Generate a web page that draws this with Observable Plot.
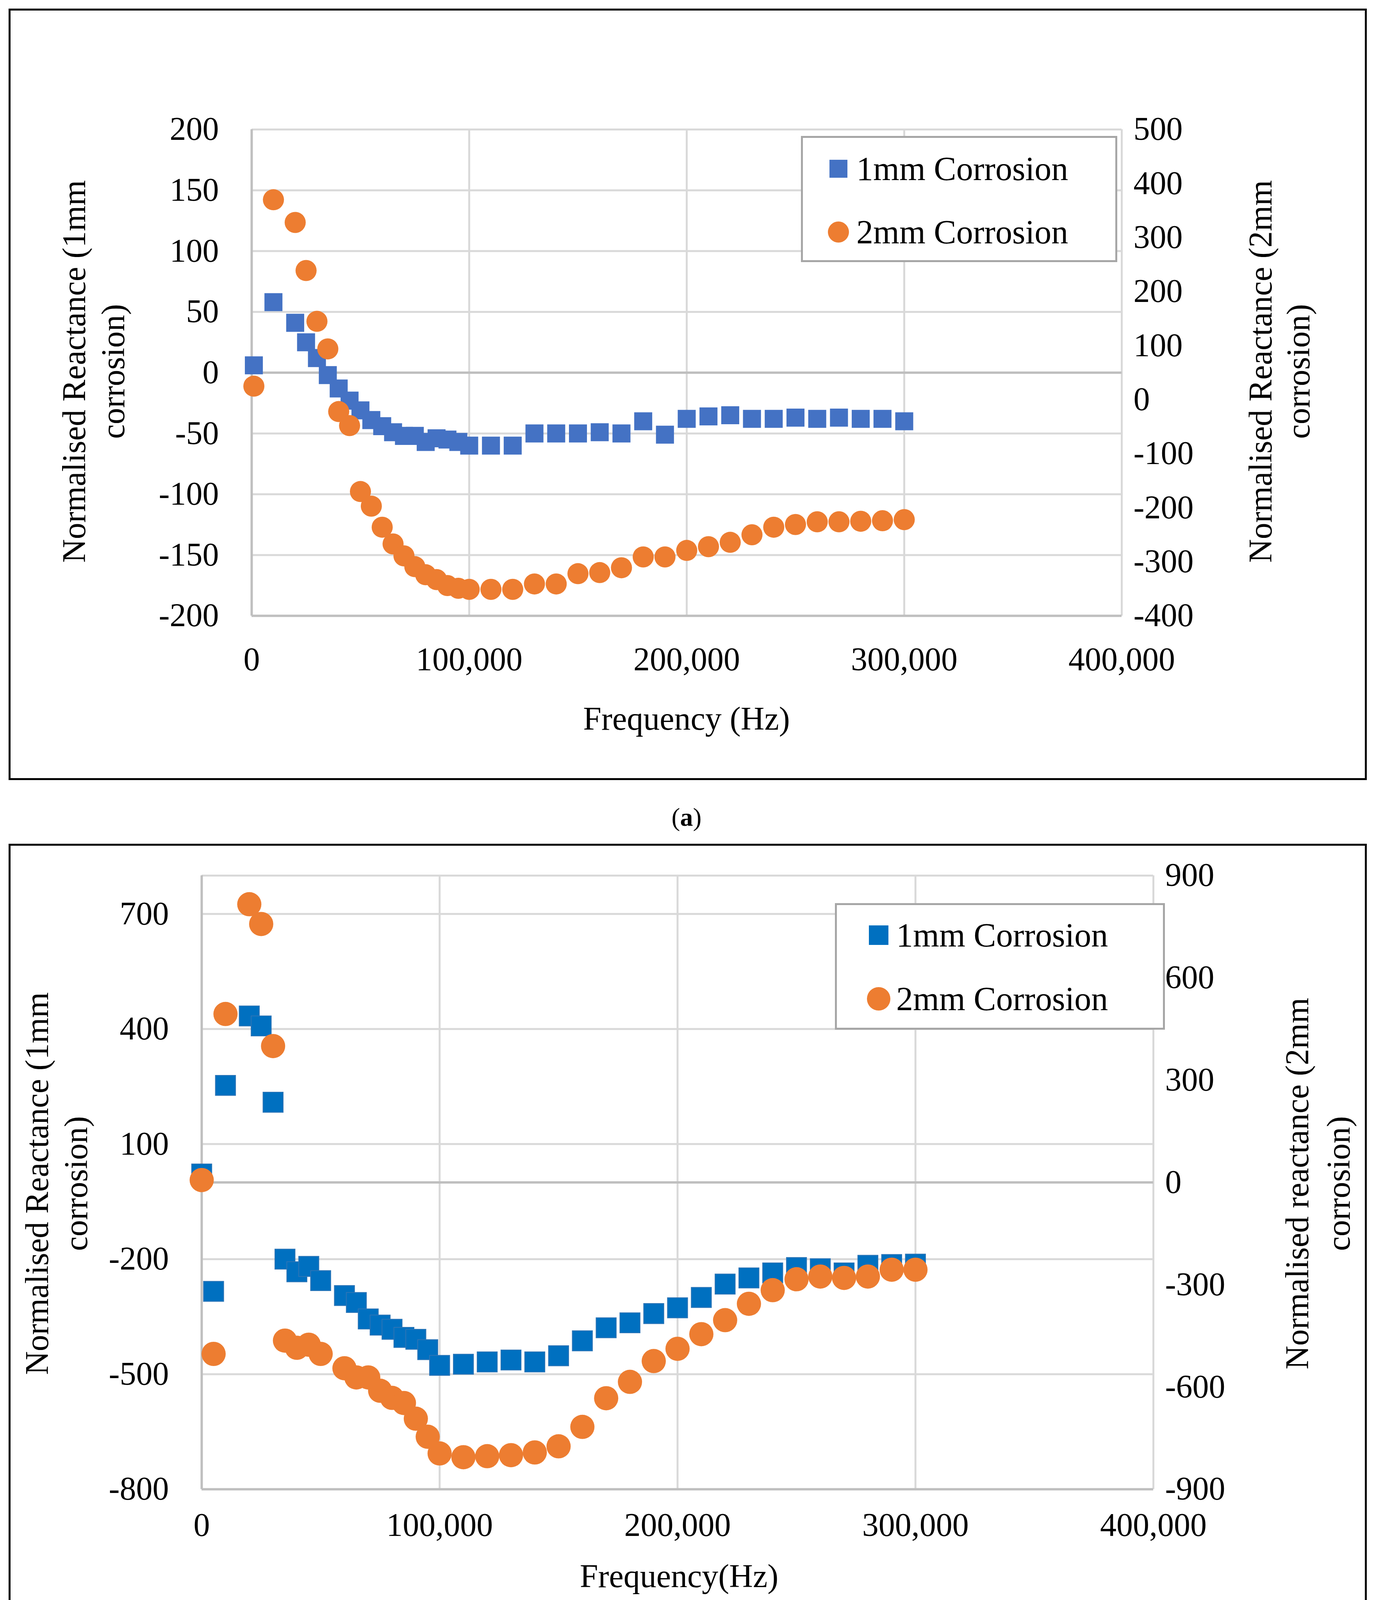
<!DOCTYPE html>
<html><head><meta charset="utf-8">
<script src="https://cdn.jsdelivr.net/npm/d3@7"></script>
<script src="https://cdn.jsdelivr.net/npm/@observablehq/plot@0.6"></script>
<style>
html,body{margin:0;background:#fff;overflow:hidden;}
#root{position:relative;width:3521px;height:4253px;font-family:"Liberation Serif",serif;color:#000;}
.frame{position:absolute;border:5px solid #000;box-sizing:border-box;}
.lbl{position:absolute;font-size:84px;white-space:nowrap;transform:translate(-50%,-50%);line-height:1;}
.rot{transform:translate(-50%,-50%) rotate(-90deg);}
.legend{position:absolute;border:5px solid #a6a6a6;box-sizing:border-box;background:#fff;}
.leg{position:absolute;font-size:86px;white-space:nowrap;transform:translateY(-50%);line-height:1;}
.mk{position:absolute;transform:translate(-50%,-50%);}
</style></head>
<body><div id="root"></div>
<script>
// Panel (a)
const freqA = [1000,10000,20000,25000,30000,35000,40000,45000,50000,55000,60000,65000,70000,75000,80000,85000,90000,95000,100000,
  110000,120000,130000,140000,150000,160000,170000,180000,190000,200000,210000,220000,230000,240000,250000,260000,270000,280000,290000,300000];
const a1mm = [6,58,41,25,12,-2,-13,-23,-31,-39,-44,-49,-52,-52,-57,-54,-55,-57,-60,
  -60,-60,-50,-50,-50,-49,-50,-40,-51,-38,-36,-35,-38,-38,-37,-38,-37,-38,-38,-40];
const a2mm = [25,370,328,239,145,94,-22,-48,-170,-197,-236,-267,-289,-309,-324,-333,-344,-349,-351,
  -351,-351,-341,-341,-322,-320,-311,-291,-291,-279,-272,-264,-250,-236,-231,-226,-226,-225,-224,-222];
const aLeftTicks = [-200,-150,-100,-50,0,50,100,150,200];
const aRightTicks = [-400,-300,-200,-100,0,100,200,300,400,500];
// Panel (b)
const freqB = [0,5000,10000,20000,25000,30000,35000,40000,45000,50000,60000,65000,70000,75000,80000,85000,90000,95000,100000,
  110000,120000,130000,140000,150000,160000,170000,180000,190000,200000,210000,220000,230000,240000,250000,260000,270000,280000,290000,300000];
const b1mm = [22,-284,253,434,408,209,-200,-233,-219,-256,-295,-313,-356,-372,-383,-404,-409,-436,-477,
  -474,-468,-463,-468,-452,-413,-379,-366,-342,-327,-300,-265,-249,-236,-222,-225,-236,-216,-214,-213];
const b2mm = [7,-503,494,816,758,400,-464,-485,-476,-503,-545,-572,-572,-611,-632,-647,-693,-746,-795,
  -806,-803,-800,-792,-774,-717,-633,-585,-524,-488,-445,-404,-356,-316,-284,-276,-280,-276,-256,-256];
const bLeftTicks = [-800,-500,-200,100,400,700];
const bRightTicks = [-900,-600,-300,0,300,600,900];
const xTicks = [0,100000,200000,300000,400000];

const BLUE_A = "#4472C4", BLUE_B = "#0070C0", ORANGE = "#ED7D31";
const root = document.getElementById("root");

function panel(o){
  const f = d3.scaleLinear(o.rightDom, o.leftDom);
  const d1 = o.freq.map((x,i)=>({x, y:o.v1[i]}));
  const d2 = o.freq.map((x,i)=>({x, y:f(o.v2[i])}));
  const p = Plot.plot({
    width:o.w, height:o.h,
    marginLeft:o.ml, marginRight:o.mr, marginTop:o.mt, marginBottom:o.mb,
    style:{fontFamily:"Liberation Serif", fontSize:"84px", color:"#000", background:"transparent"},
    x:{domain:[0,400000]},
    y:{domain:o.leftDom},
    marks:[
      Plot.ruleX(xTicks,{stroke:"#d9d9d9", strokeWidth:5}),
      Plot.ruleY(o.gridY,{stroke:"#d9d9d9", strokeWidth:5}),
      Plot.ruleY([o.leftDom[0]],{stroke:"#bfbfbf", strokeWidth:6}),
      Plot.ruleY([0],{stroke:"#bfbfbf", strokeWidth:6}),
      Plot.ruleX([0],{stroke:"#bfbfbf", strokeWidth:6}),
      Plot.axisX({ticks:xTicks, tickFormat:d3.format(","), tickSize:0, tickPadding:o.xPad, label:null, fontSize:84}),
      Plot.axisY({anchor:"left", ticks:o.leftTicks, tickSize:0, tickPadding:84, label:null, fontSize:84, tickFormat:d=>d}),
      Plot.axisY({anchor:"right", ticks:o.rightTicks.map(f), tickFormat:d=>(Math.round(f.invert(d))||0), tickSize:0, tickPadding:30, label:null, fontSize:84}),
      Plot.dot(d1,{x:"x", y:"y", symbol:"square", r:o.rs, fill:o.blue, stroke:o.xmark?"#2E75B6":null, strokeWidth:2}),
      Plot.dot(d2,{x:"x", y:"y", r:o.rc, fill:ORANGE})
    ]
  });
  p.style.position="absolute"; p.style.left=o.fx+"px"; p.style.top=o.fy+"px";
  root.appendChild(p);
}

function html(tag, cls, style, text){
  const e=document.createElement(tag); e.className=cls; Object.assign(e.style,style); if(text!=null) e.textContent=text; root.appendChild(e); return e;
}

html("div","frame",{left:"22px",top:"22px",width:"3478px",height:"1975px"});
html("div","frame",{left:"22px",top:"2160px",width:"3478px",height:"2020px"});

panel({freq:freqA, v1:a1mm, v2:a2mm, leftDom:[-200,200], rightDom:[-400,500], leftTicks:aLeftTicks, rightTicks:aRightTicks,
  gridY:aLeftTicks, w:3478, h:1975, ml:622, mr:628, mt:309, mb:421, fx:22, fy:22, xPad:80, rs:26, rc:27, blue:BLUE_A});
panel({freq:freqB, v1:b1mm, v2:b2mm, leftDom:[-800,800], rightDom:[-900,900], leftTicks:bLeftTicks, rightTicks:bRightTicks,
  gridY:[-800,-500,-200,100,400,700,800], w:3478, h:2020, ml:494, mr:547, mt:81, mb:368, fx:22, fy:2160, xPad:60, rs:29, rc:31, blue:BLUE_B, xmark:true});

html("div","lbl rot",{left:"190px",top:"951px"},"Normalised Reactance (1mm");
html("div","lbl rot",{left:"290px",top:"951px"},"corrosion)");
html("div","lbl rot",{left:"3228px",top:"951px"},"Normalised  Reactance (2mm");
html("div","lbl rot",{left:"3325px",top:"951px"},"corrosion)");
html("div","lbl",{left:"1758px",top:"1840px"},"Frequency (Hz)");
html("div","lbl rot",{left:"95px",top:"3030px"},"Normalised Reactance (1mm");
html("div","lbl rot",{left:"195px",top:"3030px"},"corrosion)");
html("div","lbl rot",{left:"3322px",top:"3030px"},"Normalised reactance (2mm");
html("div","lbl rot",{left:"3428px",top:"3030px"},"corrosion)");
html("div","lbl",{left:"1739px",top:"4035px"},"Frequency(Hz)");
const ca = html("div","lbl",{left:"1758px",top:"2092px",fontSize:"66px"}); ca.innerHTML="(<b>a</b>)";
const cb = html("div","lbl",{left:"1758px",top:"4214px",fontSize:"62px"}); cb.innerHTML="(<b>b</b>)";

function legend(x,y,w,h,mx,tx,r1,r2,blue,sq,ci){
  html("div","legend",{left:x+"px",top:y+"px",width:w+"px",height:h+"px"});
  html("div","mk",{left:mx+"px",top:r1+"px",width:sq+"px",height:sq+"px",background:blue});
  html("div","mk",{left:mx+"px",top:r2+"px",width:ci+"px",height:ci+"px",background:ORANGE,borderRadius:"50%"});
  html("div","leg",{left:tx+"px",top:r1+"px"},"1mm Corrosion");
  html("div","leg",{left:tx+"px",top:r2+"px"},"2mm Corrosion");
}
legend(2051,348,810,323,2147,2193,432,594,BLUE_A,46,54);
legend(2138,2312,845,324,2250,2295,2394,2557,BLUE_B,50,60);
</script></body></html>
